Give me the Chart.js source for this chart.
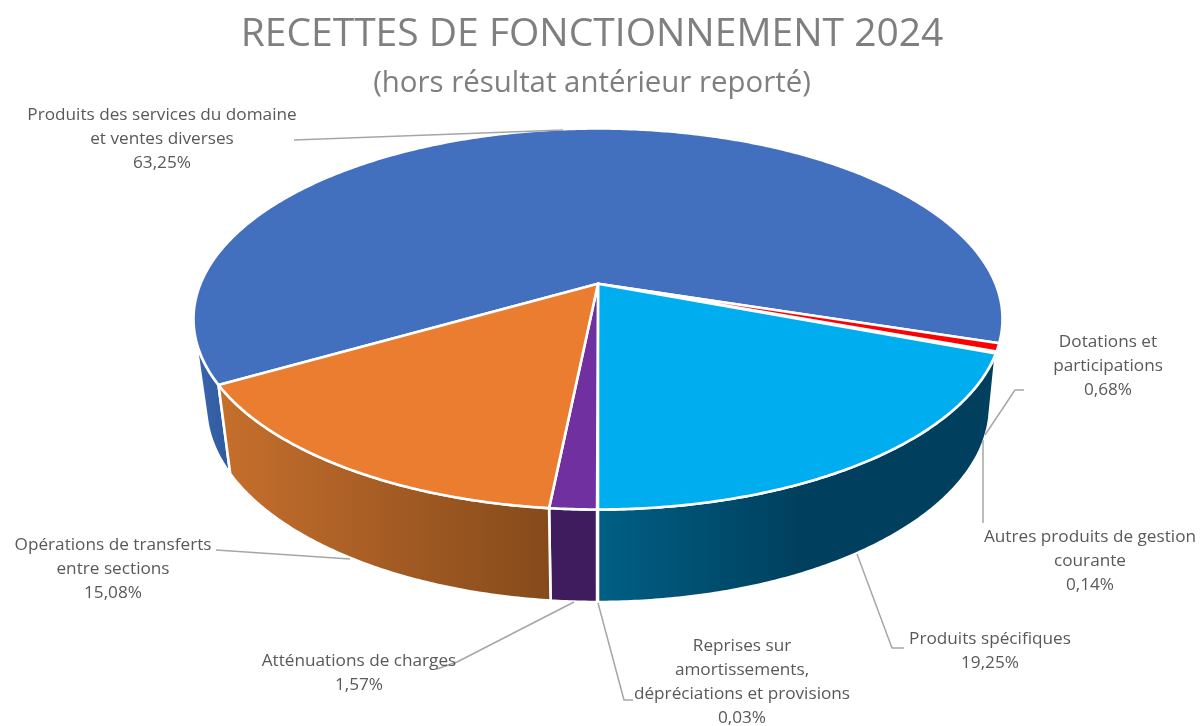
<!DOCTYPE html>
<html><head><meta charset="utf-8">
<style>html,body{margin:0;padding:0;background:#fff}#wrap{width:1200px;height:726px}</style>
<script src="https://cdn.jsdelivr.net/npm/chart.js@4/dist/chart.umd.min.js"></script>
</head><body><div id="wrap"><canvas id="c" width="1200" height="726"></canvas></div>
<script>
const categories = ["Produits des services du domaine et ventes diverses","Dotations et participations","Autres produits de gestion courante","Produits spécifiques","Reprises sur amortissements, dépréciations et provisions","Atténuations de charges","Opérations de transferts entre sections"];
const values = [63.25,0.68,0.14,19.25,0.03,1.57,15.08];
const topColors = ["#4270BF","#FF0000","#FFFFFF","#00AEEF","#FFFFFF","#7030A0","#EB7D31"];
const labelLines = [["Produits des services du domaine","et ventes diverses"],["Dotations et","participations"],["Autres produits de gestion","courante"],["Produits spécifiques"],["Reprises sur","amortissements,","dépréciations et provisions"],["Atténuations de charges"],["Opérations de transferts","entre sections"]];
const labelAnchors = [[162,115],[1108,342],[1090,537],[990,639],[742,646],[359,661],[113,545]];
const leaders = [[[294,140],[563,130]],[[985,435],[1015,390],[1024,390]],[[983,440],[983,523]],[[857,554],[892,648],[904,648]],[[598,603],[624,700],[633,700]],[[574,602],[457,662],[437,669]],[[350,559],[216,550]]];
const TOP={cx:598,cy:319,rx:404.5,ry:190.5}, BOT={cx:598,cy:406,rx:392,ry:196}, P=-0.185, D=Math.PI/180;
function proj(t,e){const u=Math.cos(t),v=Math.sin(t),d=1+P*v;return [e.cx+e.rx*u*Math.sqrt(1-P*P)/d,e.cy+e.ry*(v+P)/d];}
function trace(ctx,a,b,e,first){const n=Math.max(2,Math.ceil(Math.abs(b-a)/(0.5*D)));for(let i=0;i<=n;i++){const p=proj(a+(b-a)*i/n,e);(i==0&&first)?ctx.moveTo(p[0],p[1]):ctx.lineTo(p[0],p[1]);}}
function wallFill(ctx,i){
  const g=ctx.createLinearGradient(...(i==0?[195,0,230,0]:i==6?[229,0,551,0]:i==3?[598,0,800,0]:[551,0,598,0]));
  const s=[["#3C66AE","#2F5A9E"],null,null,["#005F85","#00405E"],["#3F1C5E","#3F1C5E"],["#3F1C5E","#3F1C5E"],["#C46E2C","#854A1B"]][i];
  g.addColorStop(0,s[0]);g.addColorStop(1,s[1]);return g;
}
const pie3d={id:'pie3d',beforeDatasetsDraw(chart){
  const ctx=chart.ctx,arcs=chart.getDatasetMeta(0).data;
  ctx.save();
  // walls: near side only; the two outer walls run along the tangent of the two rims
  const lo=380.6*D,hi=525.4*D,botStart=374*D;
  ctx.lineJoin='round';ctx.strokeStyle='#fff';ctx.lineWidth=2.6;
  arcs.forEach((a,i)=>{
    if(i==1||i==2)return;
    let s=a.startAngle,e=a.endAngle;if(s<lo){s+=2*Math.PI;e+=2*Math.PI;}
    const te=Math.min(e,hi), bs=i==3?botStart:s;
    ctx.beginPath();trace(ctx,s,te,TOP,true);trace(ctx,te,bs,BOT,false);ctx.closePath();
    ctx.fillStyle=wallFill(ctx,i);ctx.fill();
    if(values[i]>0.1)ctx.stroke();
  });
  // top face
  arcs.forEach((a,i)=>{
    ctx.beginPath();ctx.moveTo(TOP.cx,TOP.cy+TOP.ry*P);trace(ctx,a.startAngle,a.endAngle,TOP,false);ctx.closePath();
    ctx.fillStyle=topColors[i];ctx.fill();
    if(values[i]>0.5)ctx.stroke();
  });
  ctx.strokeStyle='#A6A6A6';ctx.lineWidth=1.5;
  leaders.forEach(l=>{ctx.beginPath();l.forEach((p,i)=>i?ctx.lineTo(p[0],p[1]):ctx.moveTo(p[0],p[1]));ctx.stroke();});
  ctx.fillStyle='#595959';ctx.font='17.2px "Open Sans"';ctx.textAlign='center';ctx.textBaseline='middle';
  labelLines.forEach((ls,i)=>{
    const t=ls.concat([values[i].toFixed(2).replace('.',',')+'%']);
    t.forEach((s,j)=>ctx.fillText(s,labelAnchors[i][0],labelAnchors[i][1]+j*24));
  });
  ctx.restore();
  return false;
}};
new Chart(document.getElementById('c'),{type:'pie',plugins:[pie3d],
 data:{labels:categories,datasets:[{data:values,backgroundColor:topColors}]},
 options:{responsive:false,animation:false,rotation:240.05,
  layout:{padding:{right:16}},
  plugins:{legend:{display:false},tooltip:{enabled:false},
   title:{display:true,text:'RECETTES DE FONCTIONNEMENT 2024',color:'#7F7F7F',font:{family:'"Open Sans"',size:39,weight:'normal'},padding:{top:11,bottom:8}},
   subtitle:{display:true,text:'(hors résultat antérieur reporté)',color:'#7F7F7F',font:{family:'"Open Sans"',size:29.4,weight:'normal'},padding:{bottom:4}}
  }}});
</script></body></html>
